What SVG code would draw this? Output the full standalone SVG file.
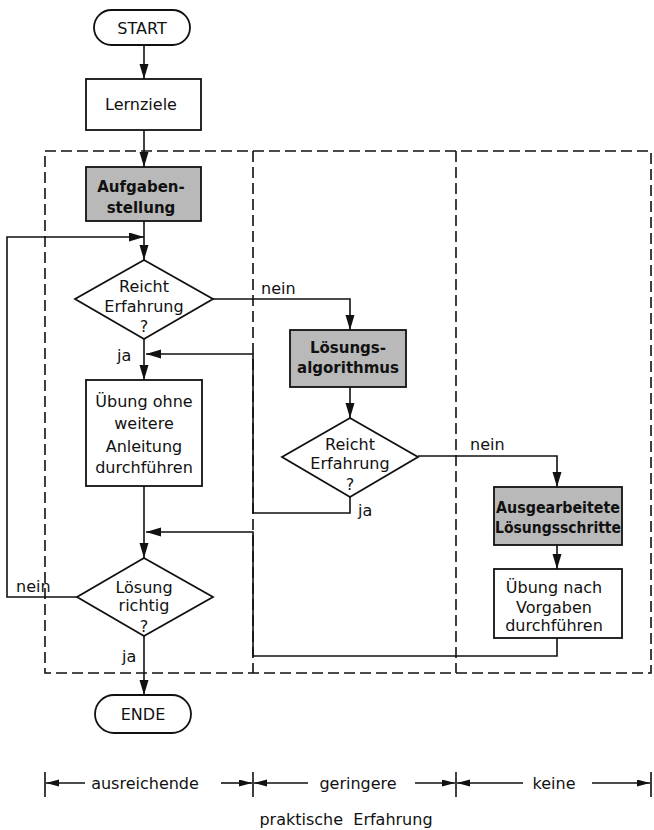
<svg xmlns="http://www.w3.org/2000/svg" width="654" height="830" viewBox="0 0 654 830">
<style>
text{font-family:"DejaVu Sans","Liberation Sans",sans-serif;font-size:16px;fill:#111;text-anchor:middle}
.l{text-anchor:start}
.b{font-weight:bold;font-size:15px}
.box{fill:#fff;stroke:#111;stroke-width:1.8}
.sh{fill:#b9b9b9;stroke:#111;stroke-width:1.8}
.ln{fill:none;stroke:#111;stroke-width:1.6}
.dash{fill:none;stroke:#111;stroke-width:1.6;stroke-dasharray:11 5}
</style>
<defs>
<marker id="ar" markerUnits="userSpaceOnUse" markerWidth="16" markerHeight="10" refX="15" refY="4.5" orient="auto">
<path d="M0,0 L15,4.5 L0,9 z" fill="#111"/>
</marker>
<marker id="sa" markerUnits="userSpaceOnUse" markerWidth="14" markerHeight="8" refX="13" refY="3.5" orient="auto">
<path d="M0,0 L13,3.5 L0,7 z" fill="#111"/>
</marker>
</defs>
<rect width="654" height="830" fill="#fff"/>

<g id="frame">
<rect class="dash" x="45" y="151" width="606" height="522"/>
<line class="dash" x1="253" y1="151" x2="253" y2="673"/>
<line class="dash" x1="456" y1="151" x2="456" y2="673"/>
</g>

<g id="connectors">
<path class="ln" d="M144,45 V79" marker-end="url(#ar)"/>
<path class="ln" d="M144,130 V167" marker-end="url(#ar)"/>
<path class="ln" d="M144,221 V260" marker-end="url(#ar)"/>
<path class="ln" d="M77,597 H7 V237 H144" marker-end="url(#ar)"/>
<path class="ln" d="M213,299 H350 V330" marker-end="url(#ar)"/>
<path class="ln" d="M144,339 V380" marker-end="url(#ar)"/>
<path class="ln" d="M350,497 V513 H253 V354 H146" marker-end="url(#ar)"/>
<path class="ln" d="M350,387 V418" marker-end="url(#ar)"/>
<path class="ln" d="M418,456 H557 V487" marker-end="url(#ar)"/>
<path class="ln" d="M557,545 V569" marker-end="url(#ar)"/>
<path class="ln" d="M557,638 V656 H253 V532 H146" marker-end="url(#ar)"/>
<path class="ln" d="M144,486 V558" marker-end="url(#ar)"/>
<path class="ln" d="M144,636 V695" marker-end="url(#ar)"/>
<text class="l" x="261" y="294">nein</text>
<text class="l" x="117" y="361">ja</text>
<text class="l" x="470" y="450">nein</text>
<text class="l" x="358" y="516">ja</text>
<text class="l" x="16" y="592">nein</text>
<text class="l" x="122" y="662">ja</text>
</g>

<g id="start">
<rect class="box" x="94" y="10" width="96" height="35" rx="17.5"/>
<text x="142" y="34">START</text>
</g>
<g id="lernziele">
<rect class="box" x="86" y="79" width="115" height="51"/>
<text x="141" y="110">Lernziele</text>
</g>
<g id="aufgabenstellung">
<rect class="sh" x="86" y="167" width="115" height="54"/>
<text class="b" x="141" y="192">Aufgaben-</text>
<text class="b" x="141" y="213">stellung</text>
</g>
<g id="reicht1">
<polygon class="box" points="144,260 213,299 144,339 75,299"/>
<text x="144" y="292">Reicht</text>
<text x="144" y="312">Erfahrung</text>
<text x="144" y="332">?</text>
</g>
<g id="uebung-ohne">
<rect class="box" x="86" y="380" width="116" height="106"/>
<text x="144" y="407">Übung ohne</text>
<text x="144" y="429">weitere</text>
<text x="144" y="452">Anleitung</text>
<text x="144" y="473">durchführen</text>
</g>
<g id="loesungsalgorithmus">
<rect class="sh" x="290" y="330" width="116" height="57"/>
<text class="b" x="348" y="353">Lösungs-</text>
<text class="b" x="348" y="373">algorithmus</text>
</g>
<g id="reicht2">
<polygon class="box" points="350,418 418,457 350,497 282,457"/>
<text x="350" y="450">Reicht</text>
<text x="350" y="469">Erfahrung</text>
<text x="350" y="490">?</text>
</g>
<g id="ausgearbeitete">
<rect class="sh" x="494" y="487" width="128" height="58"/>
<text class="b" x="558" y="513" textLength="124" lengthAdjust="spacingAndGlyphs">Ausgearbeitete</text>
<text class="b" x="558" y="533" textLength="126" lengthAdjust="spacingAndGlyphs">Lösungsschritte</text>
</g>
<g id="uebung-nach">
<rect class="box" x="494" y="569" width="128" height="69"/>
<text x="554" y="593">Übung nach</text>
<text x="554" y="613">Vorgaben</text>
<text x="554" y="631">durchführen</text>
</g>
<g id="loesung-richtig">
<polygon class="box" points="144,558 213,597 144,636 77,597"/>
<text x="144" y="593">Lösung</text>
<text x="144" y="611">richtig</text>
<text x="144" y="632">?</text>
</g>
<g id="ende">
<rect class="box" x="95" y="695" width="96" height="38" rx="19"/>
<text x="143" y="720">ENDE</text>
</g>

<g id="scale">
<path class="ln" d="M45,772 V797 M253,772 V797 M456,772 V797 M651,772 V797"/>
<path class="ln" d="M85,783 H46" marker-end="url(#sa)"/>
<path class="ln" d="M221,783 H252" marker-end="url(#sa)"/>
<path class="ln" d="M308,783 H254" marker-end="url(#sa)"/>
<path class="ln" d="M415,783 H455" marker-end="url(#sa)"/>
<path class="ln" d="M523,783 H457" marker-end="url(#sa)"/>
<path class="ln" d="M592,783 H650" marker-end="url(#sa)"/>
<text x="145" y="789">ausreichende</text>
<text x="358" y="789">geringere</text>
<text x="554" y="789">keine</text>
<text x="346" y="825" xml:space="preserve">praktische  Erfahrung</text>
</g>
</svg>
